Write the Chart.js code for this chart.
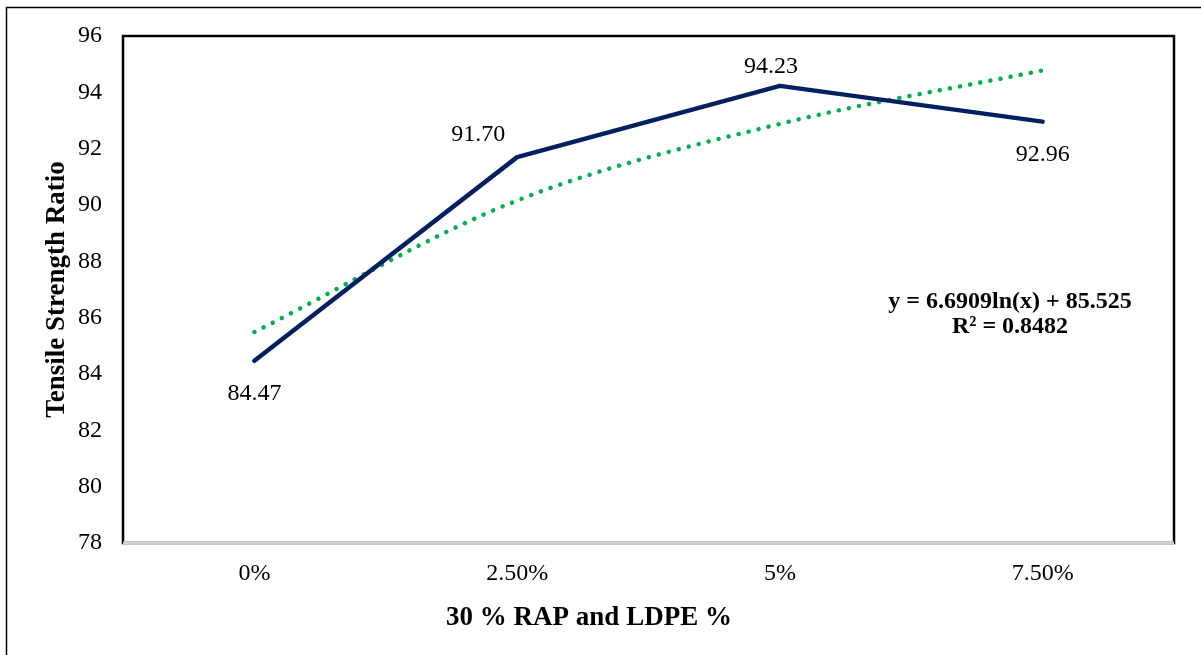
<!DOCTYPE html>
<html>
<head>
<meta charset="utf-8">
<title>Tensile Strength Ratio</title>
<script src="https://cdn.jsdelivr.net/npm/chart.js@4/dist/chart.umd.min.js"></script>
<style>
  html, body { margin: 0; padding: 0; background: #ffffff; }
  #wrap { position: relative; width: 1201px; height: 655px; }
  canvas { display: block; }
</style>
</head>
<body>
<div id="wrap"><canvas id="chart" width="1201" height="655"></canvas></div>
<script>
// Mix content (LDPE added to 30 % RAP) and measured tensile strength ratio
const categories = ['0%', '2.50%', '5%', '7.50%'];
const tsrValues = [84.47, 91.70, 94.23, 92.96];
// Logarithmic trendline evaluated at each category
const trendValues = [85.49, 90.16, 92.88, 94.78];
const yTicks = [78, 80, 82, 84, 86, 88, 90, 92, 94, 96];
const trendEquation = ['y = 6.6909ln(x) + 85.525', 'R\u00B2 = 0.8482'];

const SERIF = "'Liberation Serif', 'Times New Roman', serif";
Chart.defaults.font.family = SERIF;
Chart.defaults.color = '#000000';

// Label offsets (px) from each data point
const labelOffsets = [
  { dx: 0, dy: 33 },
  { dx: -39, dy: -22 },
  { dx: -9, dy: -19 },
  { dx: 0, dy: 33 }
];

const decorPlugin = {
  id: 'decor',
  beforeDraw(chart) {
    const { ctx } = chart;
    ctx.save();
    ctx.fillStyle = '#ffffff';
    ctx.fillRect(0, 0, chart.width, chart.height);
    // outer frame
    ctx.strokeStyle = '#000000';
    ctx.lineWidth = 1.5;
    ctx.beginPath();
    ctx.moveTo(6.5, chart.height + 2);
    ctx.lineTo(6.5, 7.5);
    ctx.lineTo(chart.width + 2, 7.5);
    ctx.stroke();
    ctx.restore();
  },
  afterDatasetsDraw(chart) {
    const { ctx, chartArea: a } = chart;
    ctx.save();
    // plot area frame
    ctx.strokeStyle = '#000000';
    ctx.lineWidth = 2.5;
    ctx.strokeRect(a.left, a.top, a.right - a.left, a.bottom - a.top);
    // horizontal axis line
    ctx.strokeStyle = '#d0d0d0';
    ctx.lineWidth = 3;
    ctx.beginPath();
    ctx.moveTo(a.left, a.bottom);
    ctx.lineTo(a.right, a.bottom);
    ctx.stroke();

    // data labels
    const meta = chart.getDatasetMeta(0);
    ctx.fillStyle = '#000000';
    ctx.font = '24px ' + SERIF;
    ctx.textAlign = 'center';
    ctx.textBaseline = 'middle';
    meta.data.forEach((pt, i) => {
      const o = labelOffsets[i];
      ctx.fillText(tsrValues[i].toFixed(2), pt.x + o.dx, pt.y + o.dy);
    });

    // trendline equation
    ctx.font = 'bold 24px ' + SERIF;
    ctx.fillText(trendEquation[0], 1010, 302);
    ctx.fillText(trendEquation[1], 1010, 327);

    // axis titles
    ctx.font = 'bold 27px ' + SERIF;
    ctx.fillText('30 % RAP and LDPE %', 589, 618);
    ctx.translate(57, (a.top + a.bottom) / 2);
    ctx.rotate(-Math.PI / 2);
    ctx.fillText('Tensile Strength Ratio', 0, 0);
    ctx.restore();
  }
};

new Chart(document.getElementById('chart'), {
  type: 'line',
  data: {
    labels: categories,
    datasets: [
      {
        label: 'Tensile Strength Ratio',
        data: tsrValues,
        borderColor: '#002060',
        borderWidth: 4.5,
        borderCapStyle: 'round',
        borderJoinStyle: 'round',
        pointRadius: 0,
        tension: 0,
        fill: false,
        order: 1
      },
      {
        label: 'Log. trendline',
        data: trendValues,
        borderColor: '#00b050',
        borderWidth: 4.5,
        borderDash: [0.1, 10.2],
        borderCapStyle: 'round',
        pointRadius: 0,
        cubicInterpolationMode: 'monotone',
        fill: false,
        order: 2
      }
    ]
  },
  options: {
    responsive: false,
    animation: false,
    events: [],
    layout: { padding: { left: 0, top: 36, right: 27, bottom: 0 } },
    plugins: {
      legend: { display: false },
      title: { display: false },
      tooltip: { enabled: false }
    },
    scales: {
      x: {
        offset: true,
        grid: { display: false, drawTicks: false },
        border: { display: false },
        ticks: { font: { size: 24 }, color: '#000000', padding: 16, maxRotation: 0 },
        afterFit(scale) { scale.height = 112; }
      },
      y: {
        min: yTicks[0],
        max: yTicks[yTicks.length - 1],
        afterBuildTicks(scale) { scale.ticks = yTicks.map(v => ({ value: v })); },
        grid: { display: false, drawTicks: false },
        border: { display: false },
        ticks: { font: { size: 24 }, color: '#000000', padding: 21 },
        afterFit(scale) { scale.width = 123; }
      }
    }
  },
  plugins: [decorPlugin]
});
</script>
</body>
</html>
